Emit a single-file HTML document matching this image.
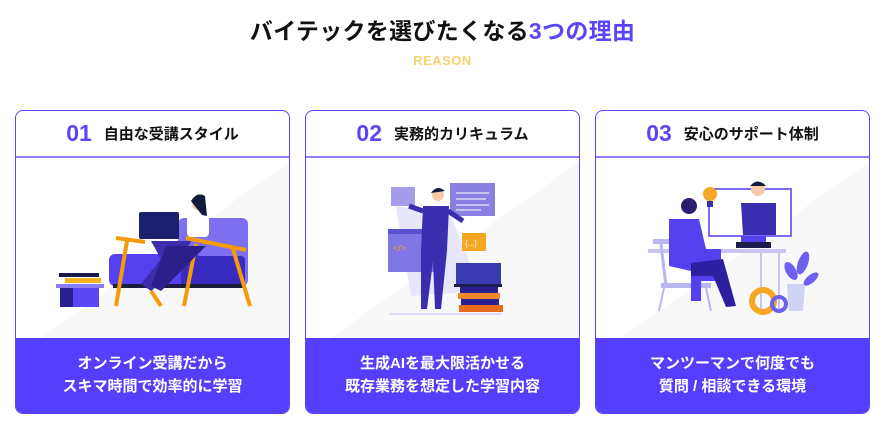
<!DOCTYPE html>
<html><head><meta charset="utf-8"><style>
body{margin:0;width:885px;height:424px;background:#fff;position:relative;overflow:hidden;font-family:"Liberation Sans","Noto Sans CJK JP",sans-serif}
.t{position:absolute;left:0;width:885px;text-align:center;top:12px;font-size:23px;font-weight:bold;color:#111;letter-spacing:0.3px}
.t span{color:#5b45f8}
.r{position:absolute;left:0;width:885px;text-align:center;top:53px;font-size:13px;font-weight:bold;color:#f8d273;letter-spacing:0.5px}
.c{position:absolute;top:110px;width:273px;height:302px;border:1px solid #5b45f8;border-radius:8px;overflow:hidden;background:#fff}
.h{height:45px;border-bottom:2px solid #8e80fa;display:flex;align-items:center;justify-content:center;font-size:15px;font-weight:bold;color:#111}
.h b{font-size:23px;color:#5b45f8;margin-right:12px;font-family:"Liberation Sans",sans-serif}
.c svg{position:absolute;left:0;top:47px}
.f{position:absolute;left:0;right:0;bottom:0;height:75px;background:#563ffc;color:#fff;font-size:15px;font-weight:bold;text-align:center;line-height:23px;padding-top:14px;box-sizing:border-box}
</style></head><body>
<div class="t">バイテックを選びたくなる<span>3つの理由</span></div>
<div class="r">REASON</div>

<div class="c" style="left:15px">
<div class="h"><b>01</b>自由な受講スタイル</div>
<svg width="273" height="182" viewBox="15 157 273 182">
<polygon points="40,337 290,160 290,337" fill="#f8f8f9"/>
<rect x="58" y="272" width="40" height="4" fill="#1a1a4a"/><rect x="64" y="277" width="36" height="5" fill="#f5b21e"/>
<rect x="55" y="283" width="48" height="4" fill="#8a7cf4"/>
<rect x="59" y="287" width="13" height="19" fill="#2a1f8f"/><rect x="72" y="287" width="26" height="19" fill="#5b46f5"/>
<rect x="177" y="217" width="70" height="68" rx="6" fill="#7d6ff0"/>
<rect x="108" y="253" width="92" height="32" rx="6" fill="#5540f0"/>
<rect x="180" y="255" width="64" height="30" rx="4" fill="#3a2bc0"/>
<rect x="112" y="283" width="133" height="4" fill="#1c1c3c"/>
<g stroke="#f59a0b" stroke-width="4"><line x1="115" y1="237" x2="144" y2="241"/><line x1="185" y1="237" x2="245" y2="249"/><line x1="126" y1="240" x2="115" y2="305"/><line x1="195" y1="243" x2="183" y2="305"/><line x1="232" y1="248" x2="249" y2="305"/><line x1="150" y1="290" x2="160" y2="305"/></g>
<path d="M150 240 L190 240 L175 270 L150 290 L140 283 L160 258Z" fill="#3b2dab"/>
<path d="M165 245 L205 245 L160 290 L150 285Z" fill="#2d1f8a"/>
<rect x="138" y="211" width="40" height="27" rx="2" fill="#1a1f6e"/>
<rect x="186" y="214" width="22" height="22" rx="4" fill="#fff"/>
<circle cx="197" cy="203" r="6" fill="#f8c8a8"/><path d="M190 200 Q196 190 204 195 L206 215 L201 214 Z" fill="#111a3a"/>
</svg>
<div class="f">オンライン受講だから<br>スキマ時間で効率的に学習</div>
</div>

<div class="c" style="left:305px">
<div class="h"><b>02</b>実務的カリキュラム</div>
<svg width="273" height="182" viewBox="305 157 273 182">
<polygon points="330,337 580,160 580,337" fill="#f8f8f9"/>
<polygon points="395,205 450,215 480,290 410,295" fill="#e8e6fb"/>
<rect x="390" y="186" width="24" height="19" fill="#a59ced"/>
<rect x="449" y="182" width="45" height="33" fill="#8a80e2"/>
<g stroke="#fff" stroke-width="1"><line x1="455" y1="192" x2="488" y2="192"/><line x1="455" y1="198" x2="485" y2="198"/><line x1="455" y1="204" x2="488" y2="204"/><line x1="455" y1="209" x2="480" y2="209"/></g>
<rect x="387" y="228" width="55" height="43" fill="#8076e6"/><rect x="387" y="228" width="55" height="5" fill="#5d50d0"/>
<text x="392" y="250" font-size="9" fill="#f5a623" font-family="Liberation Sans">&lt;/&gt;</text>
<rect x="461" y="232" width="24" height="18" fill="#f5a623"/><text x="464" y="245" font-size="8" fill="#fff" font-family="Liberation Sans">{...}</text>
<path d="M422 205 L448 205 L446 250 L440 308 L434 308 L432 260 L426 308 L420 308 L420 250Z" fill="#3b2db0"/>
<line x1="422" y1="210" x2="408" y2="205" stroke="#3b2db0" stroke-width="5"/><line x1="447" y1="210" x2="462" y2="220" stroke="#3b2db0" stroke-width="5"/>
<circle cx="437" cy="194" r="6" fill="#f8c8a8"/><path d="M430 192 Q436 183 444 190 Z" fill="#111a3a"/>
<rect x="455" y="262" width="45" height="22" fill="#3a3bb0"/><rect x="453" y="283" width="48" height="3" fill="#1c1c4c"/>
<rect x="459" y="286" width="38" height="6" fill="#2a1f8f"/><rect x="457" y="292" width="42" height="6" fill="#f5862b"/><rect x="460" y="298" width="38" height="6" fill="#2a1f8f"/><rect x="458" y="304" width="44" height="7" fill="#e76d1c"/>
<rect x="388" y="312" width="113" height="2" fill="#dcdaf6"/>
</svg>
<div class="f">生成AIを最大限活かせる<br>既存業務を想定した学習内容</div>
</div>

<div class="c" style="left:595px">
<div class="h"><b>03</b>安心のサポート体制</div>
<svg width="273" height="182" viewBox="595 157 273 182">
<polygon points="620,337 870,160 870,337" fill="#f8f8f9"/>
<rect x="708" y="188" width="82" height="47" fill="#fff" stroke="#7b6df2" stroke-width="2"/>
<rect x="740" y="235" width="25" height="6" fill="#5540f0"/><rect x="735" y="241" width="35" height="6" fill="#1c1c4c"/>
<path d="M740 202 L775 202 L775 234 L742 234Z" fill="#3b2db0"/>
<circle cx="757" cy="188" r="7" fill="#f8c8a8"/><path d="M749 185 Q757 176 765 185Z" fill="#111a3a"/>
<circle cx="709" cy="193" r="7" fill="#f5a623"/><rect x="706" y="200" width="6" height="6" fill="#3b2db0"/>
<rect x="647" y="248" width="138" height="4" fill="#c9c5f0"/><line x1="760" y1="252" x2="760" y2="310" stroke="#c9c5f0" stroke-width="2"/><line x1="778" y1="252" x2="778" y2="310" stroke="#c9c5f0" stroke-width="2"/>
<rect x="652" y="238" width="30" height="5" fill="#b9b5ee"/><line x1="660" y1="243" x2="665" y2="285" stroke="#b9b5ee" stroke-width="3"/>
<rect x="660" y="282" width="50" height="5" fill="#b9b5ee"/><g stroke="#b9b5ee" stroke-width="2"><line x1="663" y1="287" x2="658" y2="310"/><line x1="705" y1="287" x2="710" y2="310"/></g>
<path d="M668 218 L698 218 L705 248 L720 248 L720 280 L700 280 L700 300 L690 300 L690 270 L668 265Z" fill="#5540f0"/>
<path d="M690 262 L722 258 L735 305 L725 306 L712 275 L690 275Z" fill="#2d1f9f"/>
<circle cx="688" cy="205" r="8" fill="#2a1f6f"/>
<circle cx="762" cy="300" r="11" fill="none" stroke="#f5a623" stroke-width="6"/>
<circle cx="778" cy="303" r="7" fill="none" stroke="#6d5ff0" stroke-width="4"/>
<path d="M786 283 L804 283 L802 310 L788 310Z" fill="#d0d3f5"/>
<g fill="#6d5ff0"><ellipse cx="790" cy="270" rx="5" ry="10" transform="rotate(-30 790 270)"/><ellipse cx="802" cy="262" rx="5" ry="12" transform="rotate(20 802 262)"/><ellipse cx="810" cy="278" rx="4" ry="9" transform="rotate(50 810 278)"/></g>
</svg>
<div class="f">マンツーマンで何度でも<br>質問 / 相談できる環境</div>
</div>
</body></html>
